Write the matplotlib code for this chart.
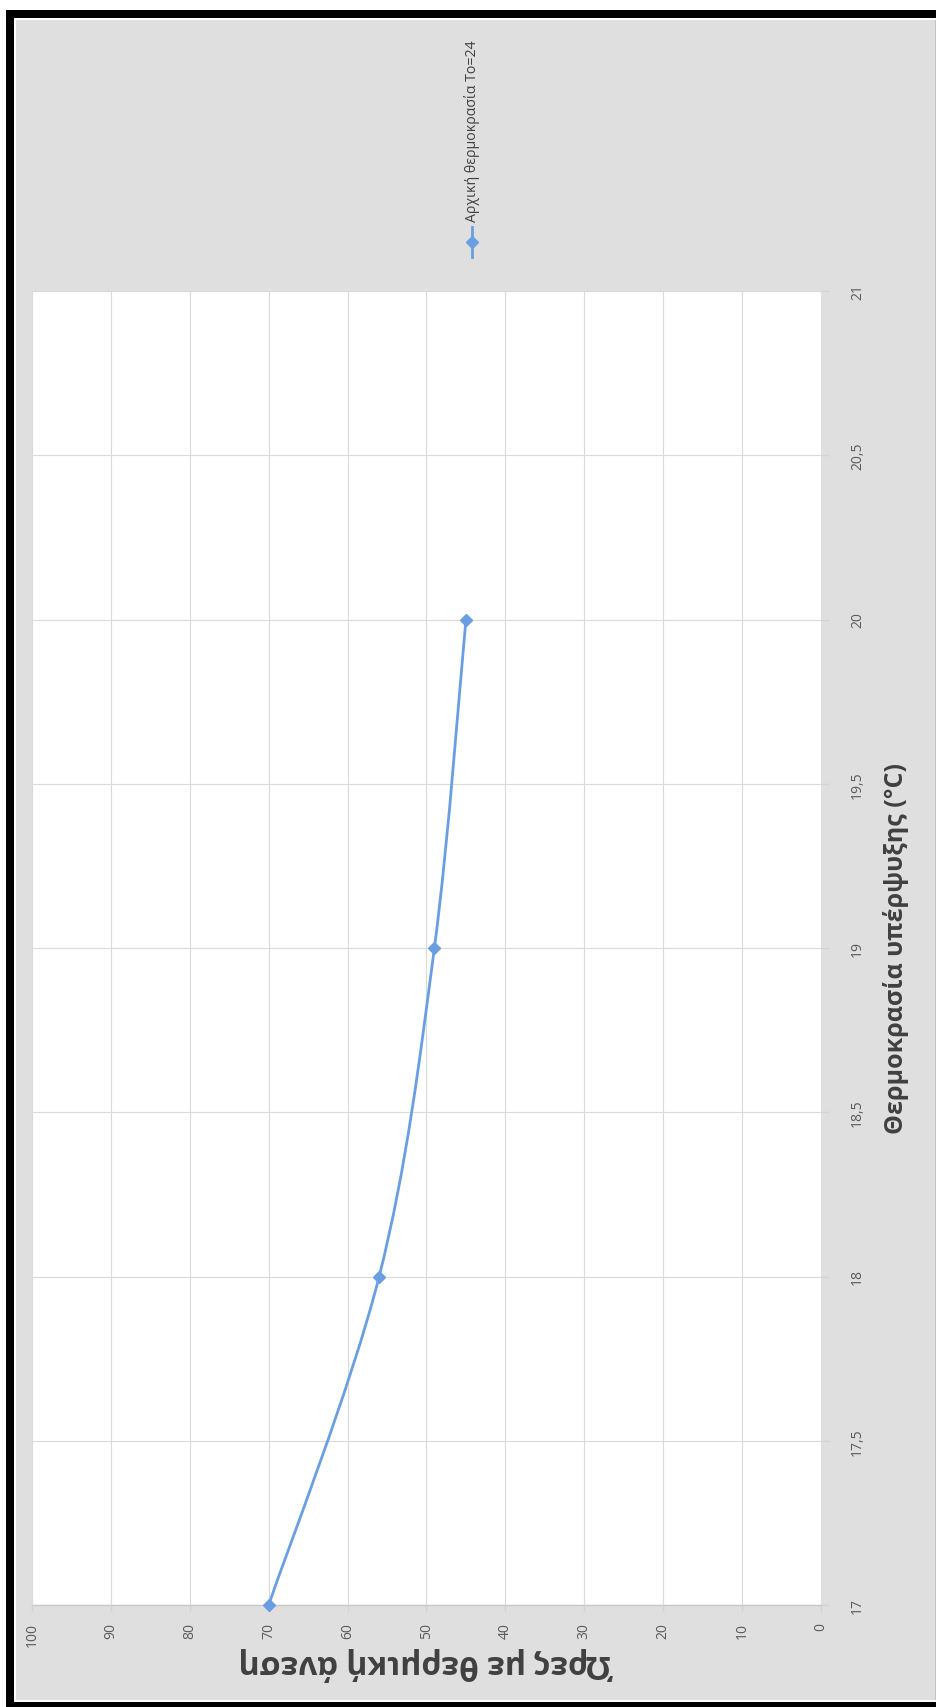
import matplotlib
matplotlib.use("Agg")
import matplotlib.pyplot as plt
from matplotlib.patches import Rectangle, PathPatch
from matplotlib.lines import Line2D
from matplotlib.path import Path
import numpy as np

plt.rcParams['font.family'] = ['Open Sans', 'DejaVu Sans']

# Data: supercooling temperature (°C) vs hours of thermal comfort
temperature = [17, 18, 19, 20]
comfort_hours = [70, 56, 49, 45]
series_name = "Αρχική θερμοκρασία To=24"

hour_ticks = [0, 10, 20, 30, 40, 50, 60, 70, 80, 90, 100]
hour_tick_labels = ["0", "10", "20", "30", "40", "50", "60", "70", "80", "90", "100"]
temp_ticks = [17, 17.5, 18, 18.5, 19, 19.5, 20, 20.5, 21]
temp_tick_labels = ["17", "17,5", "18", "18,5", "19", "19,5", "20", "20,5", "21"]

temp_label = "Θερμοκρασία υπέρψυξης (°C)"
hours_label = "Ώρες με θερμική άνεση"

W, H = 937, 1708
DPI = 100
fig = plt.figure(figsize=(W / DPI, H / DPI), dpi=DPI, facecolor="white")


def fx(px):
    return px / W


def fy(py):
    return 1 - py / H


def box(x0, y0, x1, y1, color, z=0):
    fig.add_artist(Rectangle((fx(x0), fy(y1)), fx(x1) - fx(x0), fy(y0) - fy(y1),
                             transform=fig.transFigure, facecolor=color,
                             edgecolor="none", zorder=z))


# page frame and chart background
box(6, 11, 937, 19, "black")
box(6, 11, 14, 1708, "black")
box(6, 1703, 937, 1708, "black")
box(16, 21, 935, 1701, "#dfdfdf")
box(935, 21, 936, 1701, "#c4c4c4")

# plot area (chart is laid out turned a quarter-turn: hours run right-to-left,
# temperature runs bottom-to-top)
ax = fig.add_axes([fx(32), fy(1606), fx(821) - fx(32), fy(292) - fy(1606)])
ax.set_facecolor("white")
ax.set_xlim(100, 0)
ax.set_ylim(17, 21)

ax.set_xticks(hour_ticks)
ax.set_xticklabels(hour_tick_labels, rotation=90, ha="center", va="top")
ax.set_yticks(temp_ticks)
ax.yaxis.tick_right()
ax.set_yticklabels(temp_tick_labels, rotation=90, ha="left", va="center")

ax.tick_params(axis="x", length=5, width=1, color="#d4d4d4", pad=7,
               labelsize=10, labelcolor="#595959")
ax.tick_params(axis="y", length=6, width=1, color="#d4d4d4", pad=15,
               labelsize=10, labelcolor="#595959")

ax.grid(True, color="#dadada", linewidth=0.8)
ax.set_axisbelow(True)
for side in ["top", "right", "left"]:
    ax.spines[side].set_visible(False)
ax.spines["bottom"].set_color("#c8c8c8")
ax.spines["bottom"].set_linewidth(1.0)

# smoothed series line through the data points
color = "#6a9ee2"
pts = np.column_stack([comfort_hours, temperature]).astype(float)
ext = np.vstack([pts[0], pts, pts[-1]])
verts = [tuple(pts[0])]
codes = [Path.MOVETO]
for i in range(len(pts) - 1):
    p0, p1, p2, p3 = ext[i], ext[i + 1], ext[i + 2], ext[i + 3]
    c1 = p1 + (p2 - p0) / 6.0
    c2 = p2 - (p3 - p1) / 6.0
    verts += [tuple(c1), tuple(c2), tuple(p2)]
    codes += [Path.CURVE4, Path.CURVE4, Path.CURVE4]
ax.add_patch(PathPatch(Path(verts, codes), facecolor="none", edgecolor=color,
                       linewidth=2.0, zorder=3, clip_on=False))
ax.plot(comfort_hours, temperature, linestyle="none", marker="D", markersize=6,
        color=color, zorder=4, clip_on=False)

# axis titles
ax.set_xlabel(hours_label, rotation=180, fontsize=23, fontweight="bold",
              color="#404040", labelpad=0)
ax.yaxis.set_label_position("right")
ax.set_ylabel(temp_label, rotation=90, fontsize=18, fontweight="bold",
              color="#404040", labelpad=13)

# legend entry
fig.add_artist(Line2D([fx(472)] * 3, [fy(258), fy(243), fy(228)],
                      transform=fig.transFigure, color=color, linewidth=2.0,
                      marker="D", markersize=6, markevery=[1]))
fig.text(fx(472), fy(222), series_name, rotation=90, ha="center", va="bottom",
         fontsize=10.2, color="#404040")

fig.savefig("out.png", dpi=DPI, facecolor="white")
